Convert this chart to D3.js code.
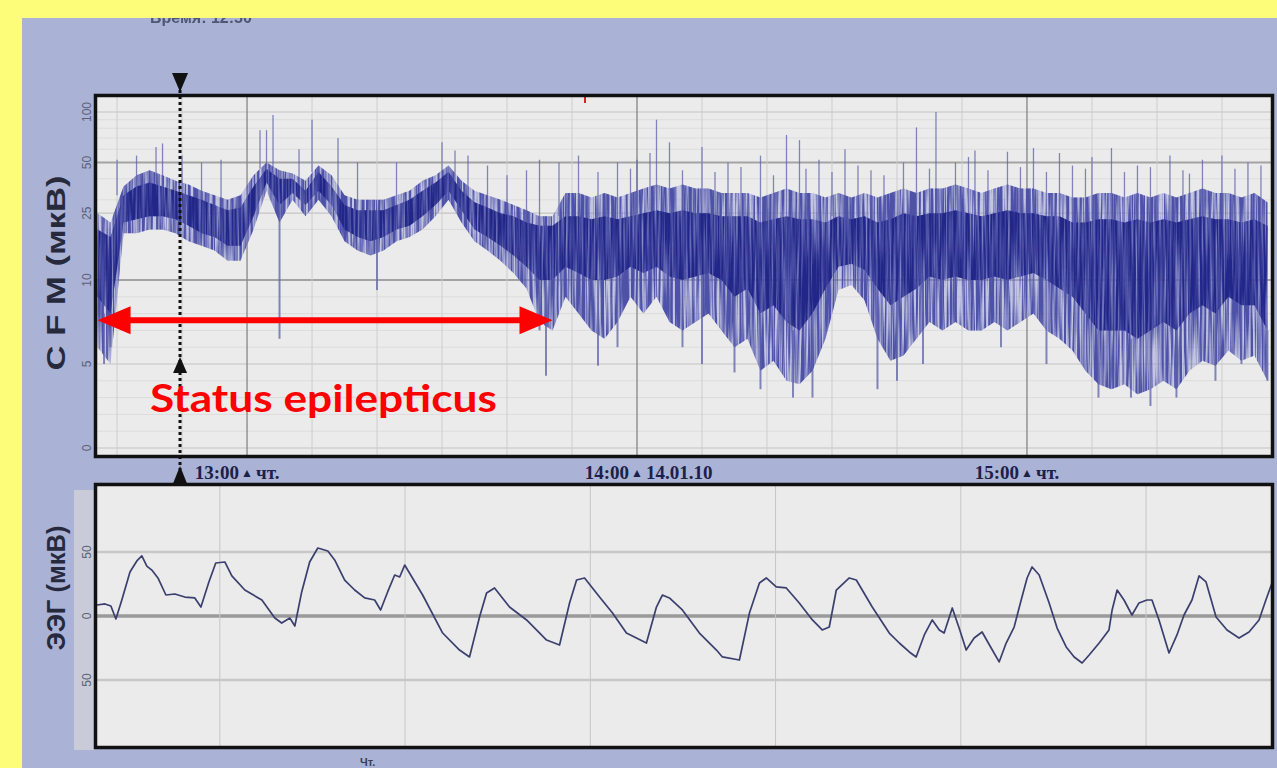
<!DOCTYPE html>
<html>
<head>
<meta charset="utf-8">
<script src="https://cdn.jsdelivr.net/npm/d3@7"></script>
<style>
body { margin: 0; background: #fefd7a; }
</style>
</head>
<body>
<svg width="1277" height="768"></svg>
<script>
// ---- CFM (aEEG) trend, one sample every 2 minutes from 12:37 ----
const cfmStart = "12:37";
const cfmStepMin = 2;
const cfmHi = [25,22,36,42,45,42,39,37,34,32, 30,32,42,50,45,43,39,48,42,32,
    30,30,30,32,34,39,42,48,39,34, 32,30,28,26,24,24,33,33,31,33,
    31,33,35,37,35,37,35,35,33,33, 33,31,33,35,33,33,31,33,31,33,
    31,33,35,33,35,35,37,35,33,35, 37,35,35,33,33,31,31,33,33,31,
    33,31,33,31,33,35,33,33,31,33, 29];
const cfmLo = [6,5,19,19,20,20,19,17,16,15, 13,13,20,34,22,30,24,30,24,17,
    15,14,15,17,18,20,24,30,22,17, 15,13,11,9.5,7.5,7,9,8,7,6.5,
    7.5,9,8,9,7.5,7,7.5,8,7,6, 6.5,4.6,5.2,4,3.8,4.6,6.5,9.4,9.7,8.8,
    6.5,5.2,5.5,6.5,7.5,7,7.5,7,7,7.5, 7,7.5,8,7,6.5,5.8,4.6,3.8,3.5,3.8,
    3.2,3.5,4,3.5,4.6,5.2,4.9,5.8,5.2,5.5, 4];
const cfmCoreHi = [20,18,32,36,38,36,34,32,30,28, 26,27,36,46,40,40,34,44,36,28,
    26,26,26,28,30,34,38,44,34,29, 27,25,24,22,21,21,24,24,23,24,
    23,24,25,26,25,26,25,25,24,24, 24,22,23,24,23,23,22,24,23,24,
    22,23,25,24,25,25,26,25,24,25, 26,25,25,24,24,22,22,23,23,22,
    23,22,23,22,23,24,23,23,22,23, 21];
const cfmCoreLo = [9,8,22,23,24,24,23,21,19,18, 16,16,24,38,28,33,28,34,28,20,
    18,17,18,20,21,24,28,34,26,20, 18,16,14,12,10,10,12,11,10,10,
    10.5,12,11,12,10.5,10,10.5,11,10,9, 9.5,8,8.5,7.5,7,8,9.5,12,12.5,11.5,
    9.5,8.5,9,9.5,10.5,10,10.5,10,10,10.5, 10,10.5,11,10,9.5,9,8,7,7,7,
    6.5,7,7.5,7,8,8.5,8,9,8.5,8.5, 7];

// single tall excursions above / below the band
const upSpikeTimes = ["12:40","12:43","12:46","12:47","12:50","12:53","12:56",
    "13:02","13:03","13:04","13:08","13:10","13:14","13:17","13:23",
    "13:30","13:32","13:34","13:37","13:45","13:48","13:51","13:57",
    "14:00","14:02","14:03","14:05","14:10","14:14","14:19","14:23","14:25","14:28",
    "14:32","14:36","14:41","14:43","14:46","14:49","14:51","14:52","14:57",
    "15:01","15:05","15:07","15:10","15:13","15:17","15:22","15:27","15:30","15:34","15:36",
    "13:40","13:43","13:54","13:59","14:07","14:12","14:16","14:21","14:26","14:30","14:34",
    "14:38","14:45","14:54","14:59","15:03","15:09","15:15","15:19","15:24","15:25","15:32"];
const upSpikeValues = [52,55,62,65,55,50,52,
    78,78,96,60,90,70,50,50,
    66,59,55,48,52,50,55,50,
    52,57,90,66,62,50,55,73,68,52,
    60,45,50,81,100,50,54,59,58,
    61,57,48,54,61,48,55,52,55,50,48,
    42,45,44,46,45,44,47,42,46,44,48,
    42,46,45,47,44,46,44,47,45,43,46];
const downSpikeTimes = ["12:38","12:39","13:05","13:20","13:45","13:46","13:54","13:57","14:07","14:10",
    "14:15","14:19","14:24","14:27","14:37","14:40","14:44","14:56","15:03","15:11",
    "15:16","15:19","15:23","15:29","15:33","15:37"];
const downSpikeValues = [5,6,6.5,9.4,7,4.3,4.9,6,6,5,
    4.5,3.5,3,3,3.5,4,5,6,5,3,
    3,2.5,3,4,5,4];

const cfmTicks = [0, 5, 10, 25, 50, 100];
const cfmMinorGrid = [1,2,3,4,6,7,8,9,20,30,40,60,70,80,90];
const hourTicks = ["13:00", "14:00", "15:00"];
const hourSuffix = ["чт.", "14.01.10", "чт."];
const cursorTime = "12:50";
const statusStart = "12:37", statusEnd = "13:47", statusLevel = 7.6;
const eventMark = "13:52";

// ---- raw EEG, seconds / µV ----
const eegSec = [0.337,0.380,0.412,0.439,0.471,0.515,0.552,0.579,0.606,0.633,
    0.666,0.709,0.757,0.811,0.865,0.898,0.941,0.978,1.027,1.065,
    1.135,1.227,1.297,1.334,1.378,1.405,1.442,1.485,1.529,1.583,
    1.620,1.674,1.728,1.782,1.836,1.868,1.906,1.944,1.971,1.998,
    2.095,2.203,2.294,2.348,2.402,2.440,2.483,2.564,2.656,2.764,
    2.834,2.888,2.926,2.969,3.050,3.120,3.195,3.303,3.357,3.389,
    3.427,3.497,3.589,3.681,3.713,3.805,3.859,3.913,3.950,4.004,
    4.058,4.128,4.199,4.252,4.290,4.328,4.398,4.436,4.522,4.614,
    4.668,4.722,4.759,4.803,4.846,4.884,4.910,4.954,4.991,5.029,
    5.072,5.115,5.164,5.207,5.245,5.288,5.326,5.358,5.385,5.423,
    5.477,5.520,5.569,5.612,5.655,5.693,5.747,5.800,5.817,5.844,
    5.881,5.924,5.962,6.005,6.032,6.070,6.124,6.167,6.205,6.248,
    6.286,6.324,6.378,6.437,6.502,6.556,6.610,6.647,6.680];
const eegUv = [8.6,9.4,7.8,-2.3,12.5,34.4,43,46.9,39,35.9,
    29.7,16.4,17.2,14.8,14.1,7,26.6,41.4,42.2,31.3,
    20.3,12.5,-1.6,-5.5,-1.6,-7.8,18.8,42.2,53.1,50.8,
    43.8,28.1,20.3,14.1,12.5,4.7,18.8,32,30.5,39.8,
    16.4,-13.3,-26.6,-32,-0.8,18,21.9,7,-3.1,-18.8,
    -22.7,10.2,28.1,29.7,14.8,2.3,-13.3,-21.1,7,16.4,
    14.1,4.7,-13.3,-26.6,-32,-34.4,2.3,25.8,29.7,22.7,
    21.9,10.2,-3.1,-10.9,-8.6,20.3,29.7,28.1,7,-13.3,
    -21.1,-28.1,-32,-14.8,-3.1,-10.9,-13.3,6.3,-9.4,-26.6,
    -17.2,-12.5,-25,-35.9,-21.1,-8.6,12.5,29.7,38.3,32,
    10.2,-9.4,-24.2,-32,-36.7,-30.5,-21.1,-10.9,4.7,20.3,
    12.5,0.8,10.2,12.5,12.5,-3.1,-28.9,-14.8,0.8,12.5,
    31.3,26.6,-0.8,-10.9,-17.2,-12.5,-3.1,12.5,25.8];
const eegTicks = [50, 0, -50];
const eegGridSec = [1, 2, 3, 4, 5, 6];

const W = 1277, H = 768;
const svg = d3.select("svg");
const defs = svg.append("defs");
const parseT = d3.timeParse("%H:%M");

// page: yellow frame, lavender screen
svg.append("rect").attr("width", W).attr("height", H).attr("fill", "#fefd7a");
svg.append("rect").attr("x", 22).attr("y", 18).attr("width", W - 22).attr("height", H - 18).attr("fill", "#aab2d6");
svg.append("text").attr("x", 150).attr("y", 23).attr("font-family", "Liberation Sans, Arial, sans-serif")
    .attr("font-weight", "bold").attr("font-size", 16).attr("fill", "#3a3f5c").attr("opacity", 0.8)
    .text("Время: 12:50");
svg.append("text").attr("x", 360).attr("y", 766).attr("font-family", "Liberation Sans, Arial, sans-serif")
    .attr("font-weight", "bold").attr("font-size", 11).attr("fill", "#3a3f5c").text("Чт.");
svg.append("rect").attr("width", W).attr("height", 18).attr("fill", "#fefd7a");

// ---- scales ----
const pTop = { x0: 97, x1: 1272, y0: 97, y1: 455 };
const pBot = { x0: 97, x1: 1272, y0: 486, y1: 746 };

const x = d3.scaleTime()
    .domain([new Date(1900, 0, 1, 12, 36, 55), new Date(1900, 0, 1, 15, 37, 42)])
    .range([pTop.x0, pTop.x1]);
const yLin = d3.scaleLinear().domain([0, 10]).range([448, 280]);
const yLog = d3.scaleLog().domain([10, 100]).range([280, 112]);
const yC = (v) => (v <= 10 ? yLin(v) : yLog(Math.min(v, 110)));

const xE = d3.scaleLinear().domain([0.337, 6.68]).range([pBot.x0, pBot.x1]);
const yE = d3.scaleLinear().domain([-100, 100]).range([744, 488]);

const t0 = parseT(cfmStart);
const cfm = cfmHi.map((hi, i) => ({
    t: d3.timeMinute.offset(t0, i * cfmStepMin),
    hi: hi, lo: cfmLo[i], chi: cfmCoreHi[i], clo: cfmCoreLo[i]
}));
const nearest = (t) => {
    const i = Math.round((t - t0) / 60000 / cfmStepMin);
    return cfm[Math.max(0, Math.min(cfm.length - 1, i))];
};

// streaky look of the densely drawn trend: turbulence used as an alpha mask
function streakFilter(id, seed, k, off, fx) {
    const f = defs.append("filter").attr("id", id)
        .attr("x", "-2%").attr("y", "-5%").attr("width", "104%").attr("height", "110%");
    f.append("feTurbulence").attr("type", "fractalNoise").attr("baseFrequency", `${fx} 0.012`)
        .attr("numOctaves", 2).attr("seed", seed).attr("result", "n");
    f.append("feColorMatrix").attr("in", "n").attr("type", "matrix")
        .attr("values", `0 0 0 0 0  0 0 0 0 0  0 0 0 0 0  ${k} 0 0 0 ${off}`).attr("result", "a");
    f.append("feComposite").attr("in", "SourceGraphic").attr("in2", "a").attr("operator", "in");
}
streakFilter("streakOuter", 3, 3.2, -1.0, 0.45);
streakFilter("streakCore", 7, 2.8, -0.75, 0.5);

defs.append("clipPath").attr("id", "clipTop").append("rect")
    .attr("x", pTop.x0).attr("y", pTop.y0).attr("width", pTop.x1 - pTop.x0).attr("height", pTop.y1 - pTop.y0);
defs.append("clipPath").attr("id", "clipBot").append("rect")
    .attr("x", pBot.x0).attr("y", pBot.y0).attr("width", pBot.x1 - pBot.x0).attr("height", pBot.y1 - pBot.y0);

// ---- top panel (CFM) ----
svg.append("rect").attr("x", pTop.x0).attr("y", pTop.y0).attr("width", pTop.x1 - pTop.x0)
    .attr("height", pTop.y1 - pTop.y0).attr("fill", "#ebebeb");

const gTop = svg.append("g").attr("clip-path", "url(#clipTop)");
gTop.selectAll("line.minor").data(cfmMinorGrid).enter().append("line")
    .attr("x1", pTop.x0).attr("x2", pTop.x1).attr("y1", (d) => yC(d)).attr("y2", (d) => yC(d))
    .attr("stroke", "#dcdcdc").attr("stroke-width", 1);
gTop.selectAll("line.major").data(cfmTicks).enter().append("line")
    .attr("x1", pTop.x0).attr("x2", pTop.x1).attr("y1", (d) => yC(d)).attr("y2", (d) => yC(d))
    .attr("stroke", (d) => (d === 10 || d === 50 ? "#a3a3a3" : "#c4c4c4"))
    .attr("stroke-width", (d) => (d === 10 || d === 50 ? 2 : 1.2));
gTop.selectAll("line.vgrid").data(x.ticks(d3.timeMinute.every(10))).enter().append("line")
    .attr("x1", (d) => x(d)).attr("x2", (d) => x(d)).attr("y1", pTop.y0).attr("y2", pTop.y1)
    .attr("stroke", (d) => (d.getMinutes() === 0 ? "#8c8c8c" : "#cdcdcd"))
    .attr("stroke-width", (d) => (d.getMinutes() === 0 ? 1.4 : 1));

const outerArea = d3.area().x((d) => x(d.t)).y0((d) => yC(d.lo)).y1((d) => yC(d.hi));
const coreArea = d3.area().x((d) => x(d.t)).y0((d) => yC(d.clo)).y1((d) => yC(d.chi));

gTop.append("path").datum(cfm).attr("d", outerArea).attr("fill", "#9598d4").attr("opacity", 0.45);
gTop.append("path").datum(cfm).attr("d", outerArea).attr("fill", "#4d51a8").attr("filter", "url(#streakOuter)");

gTop.selectAll("line.up").data(upSpikeTimes).enter().append("line")
    .attr("x1", (d) => x(parseT(d))).attr("x2", (d) => x(parseT(d)))
    .attr("y1", (d) => yC(nearest(parseT(d)).chi))
    .attr("y2", (d, i) => yC(upSpikeValues[i]))
    .attr("stroke", "#5d61a8").attr("stroke-width", 1.3).attr("opacity", 0.75);
gTop.selectAll("line.down").data(downSpikeTimes).enter().append("line")
    .attr("x1", (d) => x(parseT(d))).attr("x2", (d) => x(parseT(d)))
    .attr("y1", (d) => yC(nearest(parseT(d)).clo))
    .attr("y2", (d, i) => yC(downSpikeValues[i]))
    .attr("stroke", "#5d61a8").attr("stroke-width", 2).attr("opacity", 0.75);

gTop.append("path").datum(cfm).attr("d", coreArea).attr("fill", "#5a5eb2").attr("opacity", 0.55);
gTop.append("path").datum(cfm).attr("d", coreArea).attr("fill", "#232788").attr("filter", "url(#streakCore)");

// event mark at the top edge
svg.append("line").attr("x1", x(parseT(eventMark))).attr("x2", x(parseT(eventMark)))
    .attr("y1", pTop.y0).attr("y2", pTop.y0 + 6).attr("stroke", "#e02020").attr("stroke-width", 2);

svg.append("rect").attr("x", 95.5).attr("y", 95.5).attr("width", 1177).attr("height", 361)
    .attr("fill", "none").attr("stroke", "#111").attr("stroke-width", 3.5);

const tickFont = "Liberation Sans, Arial, sans-serif";
svg.selectAll("text.cfmTick").data(cfmTicks).enter().append("text")
    .attr("transform", (d) => `translate(91,${yC(d)}) rotate(-90)`)
    .attr("text-anchor", "middle").attr("font-family", tickFont).attr("font-size", 12)
    .attr("fill", "#5d6075").text((d) => d);
svg.append("text").attr("transform", "translate(65,273) rotate(-90)")
    .attr("text-anchor", "middle").attr("font-family", tickFont).attr("font-weight", "bold")
    .attr("font-size", 26).attr("fill", "#262a3c")
    .attr("textLength", 195).attr("lengthAdjust", "spacingAndGlyphs").text("C F M (мкВ)");

// time labels between the panels
const lblFont = "Liberation Serif, Times New Roman, serif";
hourTicks.forEach((h, i) => {
    const hx = x(parseT(h));
    svg.append("text").attr("x", hx - 8).attr("y", 479).attr("text-anchor", "end")
        .attr("font-family", lblFont).attr("font-weight", "bold").attr("font-size", 19)
        .attr("fill", "#1b2148").text(h);
    svg.append("text").attr("x", hx).attr("y", 477).attr("text-anchor", "middle")
        .attr("font-family", tickFont).attr("font-size", 12).attr("fill", "#1b2148").text("▲");
    svg.append("text").attr("x", hx + 9).attr("y", 479).attr("text-anchor", "start")
        .attr("font-family", lblFont).attr("font-weight", "bold").attr("font-size", 19)
        .attr("fill", "#1b2148").text(hourSuffix[i]);
});

// ---- bottom panel (EEG) ----
svg.append("rect").attr("x", 74).attr("y", 490).attr("width", 21).attr("height", 260).attr("fill", "#c9cbd9");
svg.append("rect").attr("x", pBot.x0).attr("y", pBot.y0).attr("width", pBot.x1 - pBot.x0)
    .attr("height", pBot.y1 - pBot.y0).attr("fill", "#ebebeb");
const gBot = svg.append("g").attr("clip-path", "url(#clipBot)");
gBot.selectAll("line.h").data(eegTicks).enter().append("line")
    .attr("x1", pBot.x0).attr("x2", pBot.x1).attr("y1", (d) => yE(d)).attr("y2", (d) => yE(d))
    .attr("stroke", (d) => (d === 0 ? "#9a9a9a" : "#c8c8c8"))
    .attr("stroke-width", (d) => (d === 0 ? 3.5 : 2.5));
gBot.selectAll("line.v").data(eegGridSec).enter().append("line")
    .attr("x1", (d) => xE(d)).attr("x2", (d) => xE(d)).attr("y1", pBot.y0).attr("y2", pBot.y1)
    .attr("stroke", "#c6c6c6").attr("stroke-width", 1);
const eeg = eegSec.map((s, i) => ({ s: s, v: eegUv[i] }));
gBot.append("path").datum(eeg)
    .attr("d", d3.line().x((d) => xE(d.s)).y((d) => yE(d.v)))
    .attr("fill", "none").attr("stroke", "#3b3f6e").attr("stroke-width", 1.7).attr("stroke-linejoin", "round");

svg.append("rect").attr("x", 95.5).attr("y", 484.5).attr("width", 1177).attr("height", 263)
    .attr("fill", "none").attr("stroke", "#111").attr("stroke-width", 3.5);

svg.selectAll("text.eegTick").data(eegTicks).enter().append("text")
    .attr("transform", (d) => `translate(91,${yE(d)}) rotate(-90)`)
    .attr("text-anchor", "middle").attr("font-family", tickFont).attr("font-size", 12)
    .attr("fill", "#5d6075").text((d) => Math.abs(d));
svg.append("text").attr("transform", "translate(65,588) rotate(-90)")
    .attr("text-anchor", "middle").attr("font-family", tickFont).attr("font-weight", "bold")
    .attr("font-size", 26).attr("fill", "#262a3c")
    .attr("textLength", 125).attr("lengthAdjust", "spacingAndGlyphs").text("ЭЭГ (мкВ)");

// ---- cursor ----
const cx = x(parseT(cursorTime)) - 2;
svg.append("line").attr("x1", cx).attr("x2", cx).attr("y1", 90).attr("y2", 470)
    .attr("stroke", "#111").attr("stroke-width", 3).attr("stroke-dasharray", "3,3");
svg.append("path").attr("d", `M${cx - 8},73 L${cx + 8},73 L${cx},92 Z`).attr("fill", "#111");
svg.append("path").attr("d", `M${cx - 7},373 L${cx + 7},373 L${cx},357 Z`).attr("fill", "#111");
svg.append("path").attr("d", `M${cx - 8},486 L${cx + 8},486 L${cx},466 Z`).attr("fill", "#111");

// ---- status epilepticus annotation ----
const ax0 = x(parseT(statusStart)), ax1 = x(parseT(statusEnd)), ay = yC(statusLevel);
svg.append("line").attr("x1", ax0 + 20).attr("x2", ax1 - 20).attr("y1", ay).attr("y2", ay)
    .attr("stroke", "#ff0000").attr("stroke-width", 6);
svg.append("path").attr("d", `M${ax0},${ay} L${ax0 + 33},${ay - 14} L${ax0 + 33},${ay + 14} Z`).attr("fill", "#ff0000");
svg.append("path").attr("d", `M${ax1},${ay} L${ax1 - 33},${ay - 14} L${ax1 - 33},${ay + 14} Z`).attr("fill", "#ff0000");
svg.append("text").attr("x", 150).attr("y", 412).attr("font-family", "Lato, Open Sans, sans-serif")
    .attr("font-weight", "bold").attr("font-size", 38).attr("fill", "#ff0000")
    .attr("textLength", 347).attr("lengthAdjust", "spacingAndGlyphs").text("Status epilepticus");
</script>
</body>
</html>
